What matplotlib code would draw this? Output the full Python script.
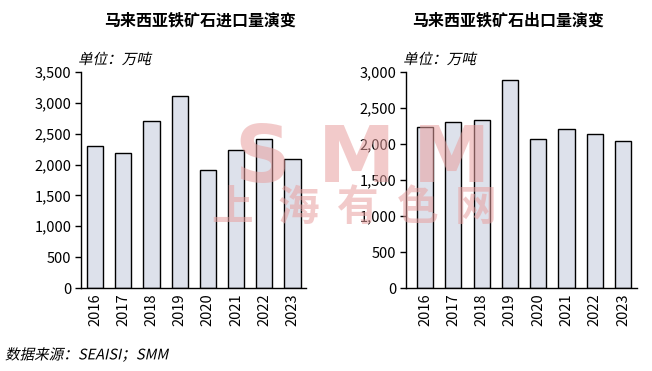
import matplotlib
matplotlib.use("Agg")
import matplotlib.pyplot as plt
from matplotlib.ticker import FuncFormatter, MultipleLocator
from matplotlib import patheffects
from matplotlib.transforms import Affine2D

plt.rcParams['font.family'] = ['Noto Sans CJK SC', 'DejaVu Sans']

years = ["2016", "2017", "2018", "2019", "2020", "2021", "2022", "2023"]
imports = [2305, 2192, 2711, 3105, 1916, 2240, 2419, 2094]
exports = [2236, 2306, 2328, 2893, 2069, 2208, 2139, 2042]
title_imp = "马来西亚铁矿石进口量演变"
title_exp = "马来西亚铁矿石出口量演变"
unit = "单位：万吨"
source = "数据来源：SEAISI；SMM"

W, H = 652, 371
fig = plt.figure(figsize=(W / 100, H / 100), dpi=100)

bar_color = "#DDE1EB"


class Skew(patheffects.AbstractPathEffect):
    def __init__(self, deg=12):
        super().__init__()
        self.deg = deg

    def draw_path(self, renderer, gc, tpath, affine, rgbFace=None):
        x0, y0 = affine.transform_point((0, 0))
        sk = Affine2D().translate(-x0, -y0).skew_deg(self.deg, 0).translate(x0, y0)
        renderer.draw_path(gc, tpath, affine + sk, rgbFace)


def px_axes(x0, y0, x1, y1):
    return fig.add_axes([x0 / W, 1 - y1 / H, (x1 - x0) / W, (y1 - y0) / H])


def draw(ax, vals, ymax, xlim):
    x = list(range(len(years)))
    ax.bar(x, vals, width=0.57, color=bar_color, edgecolor="black", linewidth=1.0, zorder=2)
    ax.set_xlim(*xlim)
    ax.set_ylim(0, ymax)
    ax.yaxis.set_major_locator(MultipleLocator(500))
    ax.yaxis.set_major_formatter(FuncFormatter(lambda v, p: f"{int(v):,}"))
    ax.set_xticks(x)
    ax.set_xticklabels(years, rotation=90)
    for s in ["top", "right"]:
        ax.spines[s].set_visible(False)
    ax.spines["left"].set_linewidth(1.0)
    ax.spines["bottom"].set_linewidth(1.0)
    ax.tick_params(axis="y", direction="out", length=4, width=1.0, labelsize=10.5, pad=3)
    ax.tick_params(axis="x", length=0, labelsize=10.5, pad=4)
    ax.set_facecolor("none")


# watermark (drawn behind the axes)
wm_color = "#E8A0A0"
for cx, ch in [(262, "S"), (357, "M"), (452, "M")]:
    fig.text(cx / W, 1 - 160 / H, ch, ha="center", va="center", fontsize=56, fontweight="bold",
             color=wm_color, alpha=0.55, zorder=0, family="DejaVu Sans")
for cx, ch in [(232, "上"), (298, "海"), (358, "有"), (418, "色"), (476, "网")]:
    fig.text(cx / W, 1 - 208 / H, ch, ha="center", va="center", fontsize=30, fontweight="bold",
             color=wm_color, alpha=0.55, zorder=0)

ax1 = px_axes(81, 72, 306, 288)
draw(ax1, imports, 3500, (-0.5, 7.48))
ax2 = px_axes(406, 72, 637, 288)
draw(ax2, exports, 3000, (-0.67, 7.49))

fig.text(200 / W, 1 - 20 / H, title_imp, ha="center", va="center", fontsize=11.5, fontweight="bold")
fig.text(508 / W, 1 - 20 / H, title_exp, ha="center", va="center", fontsize=11.5, fontweight="bold")
sk = [Skew(12)]
fig.text(78 / W, 1 - 60 / H, unit, ha="left", va="center", fontsize=10.5, path_effects=sk)
fig.text(403 / W, 1 - 60 / H, unit, ha="left", va="center", fontsize=10.5, path_effects=sk)
fig.text(5 / W, 1 - 355 / H, source, ha="left", va="center", fontsize=10.5, path_effects=sk)

fig.savefig("out.png", dpi=100)
